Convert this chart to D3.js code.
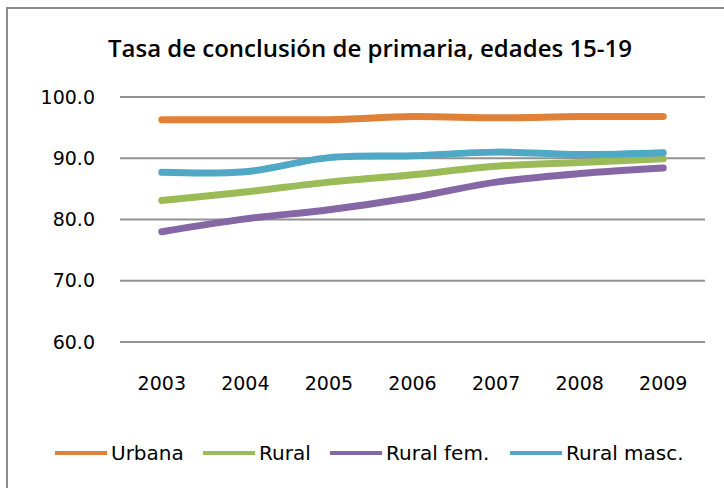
<!DOCTYPE html>
<html>
<head>
<meta charset="utf-8">
<script src="https://cdn.jsdelivr.net/npm/d3@7"></script>
<style>
  html, body { margin: 0; padding: 0; background: #fff; }
  svg { display: block; }
  text { font-family: "DejaVu Sans", Verdana, sans-serif; fill: #000; }
</style>
</head>
<body>
<div id="chart"></div>
<script>
const years = ["2003", "2004", "2005", "2006", "2007", "2008", "2009"];
const urbana = [96.3, 96.3, 96.3, 96.8, 96.6, 96.8, 96.8];
const rural = [83.1, 84.5, 86.1, 87.3, 88.7, 89.3, 89.9];
const ruralFem = [78.0, 80.1, 81.6, 83.6, 86.1, 87.5, 88.4];
const ruralMasc = [87.7, 87.8, 90.1, 90.4, 91.0, 90.6, 90.9];
const yTicks = [60, 70, 80, 90, 100];
const title = "Tasa de conclusión de primaria, edades 15-19";

const seriesList = [
    {name: "Urbana", values: urbana, color: "#E0813A"},
    {name: "Rural", values: rural, color: "#9BBB59"},
    {name: "Rural fem.", values: ruralFem, color: "#8567A5"},
    {name: "Rural masc.", values: ruralMasc, color: "#4FA8C4"}
];

const width = 724, height = 488;
const plot = {left: 120, right: 705, top: 97, bottom: 342};

const svg = d3.select("#chart").append("svg")
    .attr("width", width)
    .attr("height", height);

// chart frame
svg.append("rect")
    .attr("x", 7).attr("y", 8)
    .attr("width", 800).attr("height", 600)
    .attr("fill", "#fff")
    .attr("stroke", "#8c8c8c")
    .attr("stroke-width", 2);

svg.append("text")
    .attr("x", 370).attr("y", 57)
    .attr("text-anchor", "middle")
    .style("font-family", "'Open Sans', sans-serif")
    .style("font-size", "24px")
    .style("font-weight", "600")
    .text(title);

const x = d3.scaleBand()
    .domain(years)
    .range([plot.left, plot.right]);

const y = d3.scaleLinear()
    .domain([60, 100])
    .range([plot.bottom, plot.top]);

// gridlines
svg.append("g")
    .selectAll("line")
    .data(yTicks)
    .join("line")
    .attr("x1", plot.left).attr("x2", plot.right)
    .attr("y1", d => y(d)).attr("y2", d => y(d))
    .attr("stroke", "#929292")
    .attr("stroke-width", 2);

// y axis labels
const yAxis = svg.append("g")
    .attr("transform", `translate(${plot.left - 25},0)`)
    .call(d3.axisLeft(y).tickValues(yTicks).tickFormat(d3.format(".1f")).tickSize(0).tickPadding(0));
yAxis.select(".domain").remove();
yAxis.selectAll("text")
    .style("font-family", "'DejaVu Sans', Verdana, sans-serif")
    .style("font-size", "19px")
    .attr("fill", "#000");

// x axis labels
const xAxis = svg.append("g")
    .attr("transform", `translate(0,${plot.bottom + 34})`)
    .call(d3.axisBottom(x).tickSize(0).tickPadding(0));
xAxis.select(".domain").remove();
xAxis.selectAll("text")
    .style("font-family", "'DejaVu Sans', Verdana, sans-serif")
    .style("font-size", "19px")
    .attr("fill", "#000");

const line = d3.line()
    .x((d, i) => x(years[i]) + x.bandwidth() / 2)
    .y(d => y(d))
    .curve(d3.curveCatmullRom.alpha(0.5));

svg.append("g")
    .selectAll("path")
    .data(seriesList)
    .join("path")
    .attr("d", d => line(d.values))
    .attr("fill", "none")
    .attr("stroke", d => d.color)
    .attr("stroke-width", 7)
    .attr("stroke-linecap", "round")
    .attr("stroke-linejoin", "round");

// legend
const legendX = [55, 203, 330, 510];
const legend = svg.append("g")
    .selectAll("g")
    .data(seriesList)
    .join("g")
    .attr("transform", (d, i) => `translate(${legendX[i]},453)`);

legend.append("line")
    .attr("x1", 0).attr("x2", 52)
    .attr("y1", 0).attr("y2", 0)
    .attr("stroke", d => d.color)
    .attr("stroke-width", 4);

legend.append("text")
    .attr("x", 56).attr("y", 0)
    .attr("dy", "0.35em")
    .style("font-size", "20px")
    .text(d => d.name);
</script>
</body>
</html>
